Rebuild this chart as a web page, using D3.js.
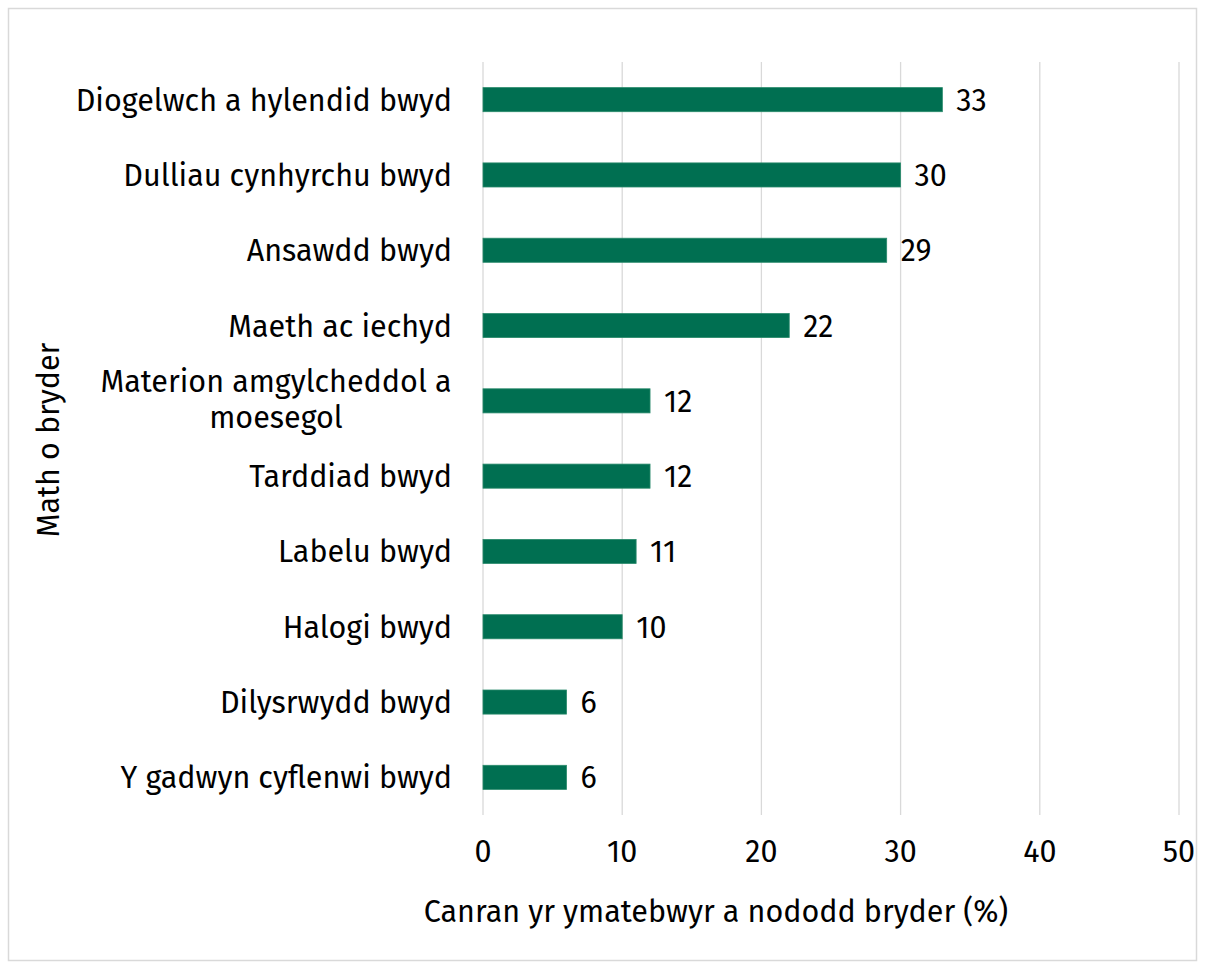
<html>
<head>
<style>
  body { margin: 0; background: #ffffff; font-family: "Fira Sans", "Noto Sans", sans-serif; }
  .grid line { stroke: #d9d9d9; stroke-width: 1.3; }
  .cat { font-size: 30.5px; fill: #000; }
  .tick-label { font-size: 30.5px; fill: #000; }
  .val { font-size: 30.5px; fill: #000; }
  .axis-title { font-size: 30.5px; fill: #000; }
</style>
<script src="https://cdn.jsdelivr.net/npm/d3@7"></script>
</head>
<body>
<div class="chartBox"></div>
<script type="text/javascript">

  // data
  var categories = [
    "Diogelwch a hylendid bwyd",
    "Dulliau cynhyrchu bwyd",
    "Ansawdd bwyd",
    "Maeth ac iechyd",
    "Materion amgylcheddol a moesegol",
    "Tarddiad bwyd",
    "Labelu bwyd",
    "Halogi bwyd",
    "Dilysrwydd bwyd",
    "Y gadwyn cyflenwi bwyd"
  ];
  var values = [33, 30, 29, 22, 12, 12, 11, 10, 6, 6];
  var xTicks = [0, 10, 20, 30, 40, 50];
  var xTitle = "Canran yr ymatebwyr a nododd bryder (%)";
  var yTitle = "Math o bryder";

  var width = 1205, height = 969;
  var plotLeft = 483, plotRight = 1179, plotTop = 62, plotBottom = 815;

  var svg = d3.select(".chartBox").append("svg")
      .attr("width", width)
      .attr("height", height);

  // outer frame
  svg.append("rect")
      .attr("x", 8.5).attr("y", 8.5)
      .attr("width", 1188).attr("height", 952)
      .attr("fill", "#fff")
      .attr("stroke", "#d9d9d9")
      .attr("stroke-width", 1.5);

  var x = d3.scaleLinear().domain([0, 50]).range([plotLeft, plotRight]);
  var y = d3.scaleBand().domain(categories).range([plotTop, plotBottom]).paddingInner(0.68).paddingOuter(0.34);

  //// vertical grid lines
  svg.append("g").attr("class", "grid")
      .selectAll("line")
      .data(xTicks)
      .enter().append("line")
      .attr("x1", function (d) { return x(d); })
      .attr("x2", function (d) { return x(d); })
      .attr("y1", plotTop)
      .attr("y2", plotBottom);

  //// bars
  svg.selectAll("rect.bar")
      .data(values)
      .enter().append("rect")
      .attr("class", "bar")
      .attr("x", x(0))
      .attr("y", function (d, i) { return y(categories[i]); })
      .attr("width", function (d) { return x(d) - x(0); })
      .attr("height", y.bandwidth())
      .attr("fill", "#006f51")
      .attr("stroke", "#2a8a6c")
      .attr("stroke-width", 0.8);

  //// value labels
  svg.selectAll("text.val")
      .data(values)
      .enter().append("text")
      .attr("class", "val")
      .attr("x", function (d) { return x(d) + 14; })
      .attr("y", function (d, i) { return y(categories[i]) + y.bandwidth() / 2; })
      .attr("dy", ".36em")
      .text(function (d) { return d; });

  //// category labels (long one wraps on two lines)
  var cats = svg.selectAll("text.cat")
      .data(categories)
      .enter().append("text")
      .attr("class", "cat")
      .attr("text-anchor", "end")
      .attr("x", 452)
      .attr("y", function (d) { return y(d) + y.bandwidth() / 2; });

  cats.each(function (d) {
    var t = d3.select(this);
    if (d.length > 28) {
      var parts = ["Materion amgylcheddol a", "moesegol"];
      t.attr("text-anchor", "middle").attr("x", 276);
      t.append("tspan").attr("x", 276).attr("dy", "-0.3em").text(parts[0]);
      t.append("tspan").attr("x", 276).attr("dy", "1.2em").text(parts[1]);
    } else {
      t.attr("dy", ".36em").text(d);
    }
  });

  //// x tick labels
  svg.selectAll("text.tick-label")
      .data(xTicks)
      .enter().append("text")
      .attr("class", "tick-label")
      .attr("text-anchor", "middle")
      .attr("x", function (d) { return x(d); })
      .attr("y", 862)
      .text(function (d) { return d; });

  // axis titles
  svg.append("text").attr("class", "axis-title")
      .attr("text-anchor", "middle")
      .attr("x", 716).attr("y", 922)
      .text(xTitle);

  svg.append("text").attr("class", "axis-title")
      .attr("text-anchor", "middle")
      .attr("transform", "translate(59,440) rotate(-90)")
      .text(yTitle);

</script>
</body>
</html>
